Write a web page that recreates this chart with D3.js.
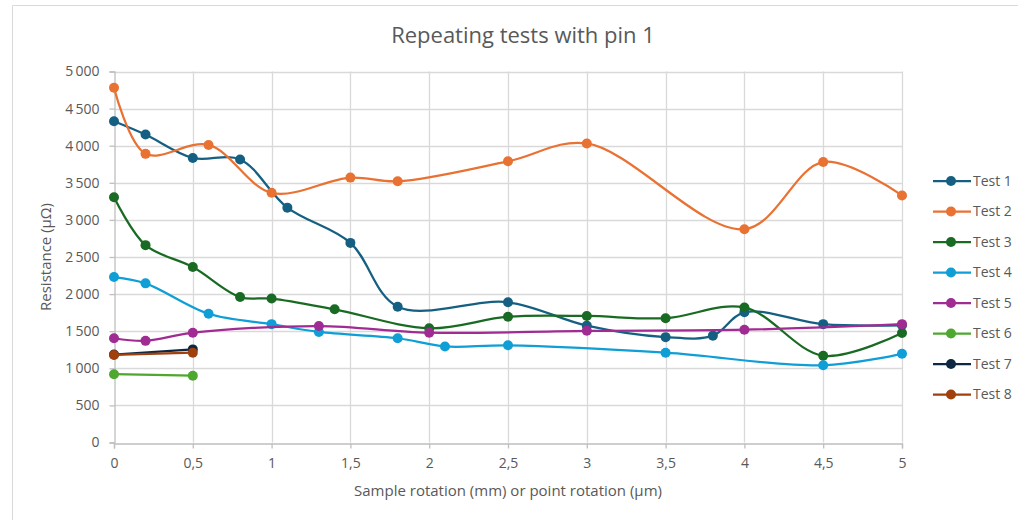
<!DOCTYPE html>
<html>
<head>
<meta charset="utf-8">
<script src="https://cdn.jsdelivr.net/npm/d3@7"></script>
<style>
  body { margin: 0; background: #fff; }
  text { font-family: "Open Sans", "Liberation Sans", sans-serif; fill: #595959; }
</style>
</head>
<body>
<script>
// chart data
var seriesNames = ["Test 1", "Test 2", "Test 3", "Test 4", "Test 5", "Test 6", "Test 7", "Test 8"];
var seriesColors = ["#156082", "#E97132", "#196B24", "#0F9ED5", "#A02B93", "#4EA72E", "#0E2841", "#A0410D"];

var test1X = [0, 0.2, 0.5, 0.8, 1.1, 1.5, 1.8, 2.5, 3, 3.5, 3.8, 4, 4.5, 5];
var test1Y = [4330, 4150, 3835, 3815, 3165, 2690, 1830, 1890, 1575, 1420, 1440, 1755, 1595, 1580];
var test2X = [0, 0.2, 0.6, 1, 1.5, 1.8, 2.5, 3, 4, 4.5, 5];
var test2Y = [4780, 3890, 4010, 3365, 3570, 3520, 3790, 4030, 2875, 3780, 3330];
var test3X = [0, 0.2, 0.5, 0.8, 1, 1.4, 2, 2.5, 3, 3.5, 4, 4.5, 5];
var test3Y = [3305, 2660, 2365, 1960, 1940, 1795, 1540, 1695, 1705, 1675, 1820, 1170, 1475];
var test4X = [0, 0.2, 0.6, 1, 1.3, 1.8, 2.1, 2.5, 3.5, 4.5, 5];
var test4Y = [2230, 2145, 1735, 1595, 1490, 1405, 1295, 1310, 1210, 1040, 1195];
var test5X = [0, 0.2, 0.5, 1.3, 2, 3, 4, 5];
var test5Y = [1405, 1370, 1480, 1570, 1480, 1505, 1520, 1595];
var test6X = [0, 0.5];
var test6Y = [920, 900];
var test7X = [0, 0.5];
var test7Y = [1185, 1255];
var test8X = [0, 0.5];
var test8Y = [1180, 1210];

var xTicks = [0, 0.5, 1, 1.5, 2, 2.5, 3, 3.5, 4, 4.5, 5];
var yTicks = [0, 500, 1000, 1500, 2000, 2500, 3000, 3500, 4000, 4500, 5000];

var allX = [test1X, test2X, test3X, test4X, test5X, test6X, test7X, test8X];
var allY = [test1Y, test2Y, test3Y, test4Y, test5Y, test6Y, test7Y, test8Y];

var series = seriesNames.map(function(name, i) {
    return {
        name: name,
        color: seriesColors[i],
        points: allX[i].map(function(x, j) { return { x: x, y: allY[i][j] }; })
    };
});

var w = 1018, h = 520;
var svg = d3.select("body").append("svg")
            .attr("width", w)
            .attr("height", h);

// chart frame
svg.append("path")
   .attr("d", "M12.5,520 V5.5 H1018")
   .attr("fill", "none")
   .attr("stroke", "#d9d9d9")
   .attr("stroke-width", 1);

var x = d3.scaleLinear().domain([0, 5]).range([114, 902]);
var y = d3.scaleLinear().domain([0, 5000]).range([442.5, 71.5]);

// grid
svg.append("g")
   .selectAll("line")
   .data(yTicks.slice(1))
   .enter().append("line")
   .attr("x1", x(0)).attr("x2", x(5))
   .attr("y1", function(d) { return Math.round(y(d)) + 0.5; })
   .attr("y2", function(d) { return Math.round(y(d)) + 0.5; })
   .attr("stroke", "#d9d9d9").attr("stroke-width", 1.3);

svg.append("g")
   .selectAll("line")
   .data(xTicks.slice(1))
   .enter().append("line")
   .attr("x1", function(d) { return Math.round(x(d)) + 0.5; })
   .attr("x2", function(d) { return Math.round(x(d)) + 0.5; })
   .attr("y1", y(0)).attr("y2", y(5000))
   .attr("stroke", "#d9d9d9").attr("stroke-width", 1.3);

// axes
var xAxis = svg.append("g")
   .attr("transform", "translate(0," + (Math.round(y(0)) + 0.5) + ")")
   .call(d3.axisBottom(x).tickValues(xTicks).tickSize(5).tickPadding(10)
         .tickFormat(function(d) { return String(d).replace(".", ","); }));
xAxis.select(".domain").attr("stroke", "#bfbfbf").attr("stroke-width", 1.3);
xAxis.selectAll(".tick line").attr("stroke", "#bfbfbf").attr("stroke-width", 1.3);
xAxis.selectAll("text").attr("font-size", 14).attr("fill", "#595959");

var yAxis = svg.append("g")
   .attr("transform", "translate(" + (Math.round(x(0)) + 0.5) + ",0)")
   .call(d3.axisLeft(y).tickValues(yTicks).tickSize(5).tickPadding(10)
         .tickFormat(function(d) { return d3.format(",")(d).replace(",", "\u2009"); }));
yAxis.select(".domain").attr("stroke", "#bfbfbf").attr("stroke-width", 1.3);
yAxis.selectAll(".tick line").attr("stroke", "#bfbfbf").attr("stroke-width", 1.3);
yAxis.selectAll("text").attr("font-size", 14).attr("fill", "#595959");

// titles
svg.append("text")
   .attr("x", 523).attr("y", 43)
   .attr("text-anchor", "middle")
   .attr("font-size", 22)
   .text("Repeating tests with pin 1");

svg.append("text")
   .attr("x", 508).attr("y", 496)
   .attr("text-anchor", "middle")
   .attr("font-size", 15)
   .text("Sample rotation (mm) or point rotation (\u03bcm)");

svg.append("text")
   .attr("transform", "translate(51,257) rotate(-90)")
   .attr("text-anchor", "middle")
   .attr("font-size", 15)
   .text("Resistance (\u03bc\u03a9)");

// series lines and markers
var line = d3.line()
    .x(function(d) { return x(d.x); })
    .y(function(d) { return y(d.y); })
    .curve(d3.curveCatmullRom.alpha(0.5));

var g = svg.selectAll(".series")
   .data(series)
   .enter().append("g")
   .attr("class", "series");

g.append("path")
   .attr("d", function(d) { return line(d.points); })
   .attr("fill", "none")
   .attr("stroke", function(d) { return d.color; })
   .attr("stroke-width", 2.25)
   .attr("stroke-linecap", "round");

g.selectAll("circle")
   .data(function(d) { return d.points.map(function(p) { return { x: p.x, y: p.y, color: d.color }; }); })
   .enter().append("circle")
   .attr("cx", function(d) { return x(d.x); })
   .attr("cy", function(d) { return y(d.y); })
   .attr("r", 5)
   .attr("fill", function(d) { return d.color; });

// legend
var legend = svg.selectAll(".legend")
   .data(series)
   .enter().append("g")
   .attr("class", "legend")
   .attr("transform", function(d, i) { return "translate(933," + (181 + i * 30.5) + ")"; });

legend.append("line")
   .attr("x1", 0).attr("x2", 38)
   .attr("stroke", function(d) { return d.color; })
   .attr("stroke-width", 2.25);
legend.append("circle")
   .attr("cx", 18).attr("r", 5)
   .attr("fill", function(d) { return d.color; });
legend.append("text")
   .attr("x", 40).attr("dy", "0.35em")
   .attr("font-size", 14)
   .text(function(d) { return d.name; });
</script>
</body>
</html>
